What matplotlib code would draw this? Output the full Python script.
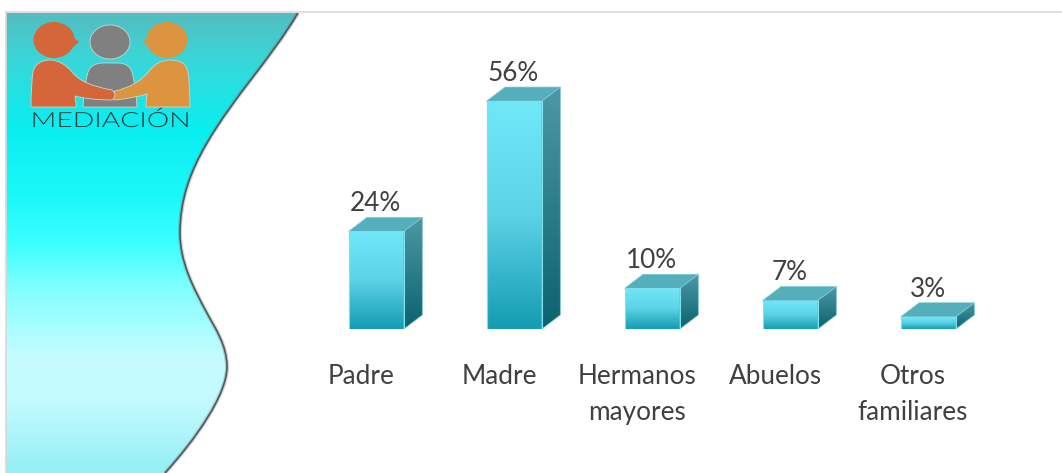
#!/usr/bin/env python3
# -*- coding: utf-8 -*-
import numpy as np
import matplotlib
matplotlib.use("Agg")
import matplotlib.pyplot as plt
import matplotlib.patheffects as pe
from matplotlib.colors import LinearSegmentedColormap
from matplotlib.patches import Ellipse, PathPatch, Polygon
from matplotlib.path import Path
from matplotlib.transforms import Affine2D

plt.rcParams['font.family'] = ['Lato', 'DejaVu Sans']

categories = ['Padre', 'Madre', 'Hermanos\nmayores', 'Abuelos', 'Otros\nfamiliares']
values = [24, 56, 10, 7, 3]
value_labels = ['24%', '56%', '10%', '7%', '3%']

W, H = 1062, 473
TEXT = '#404040'


class StretchX(pe.AbstractPathEffect):
    """Widen text around a centre x (display pixels), the logo lettering is very wide"""
    def __init__(self, cx, factor):
        super().__init__()
        self.cx = cx
        self.factor = factor

    def draw_path(self, renderer, gc, tpath, affine, rgbFace=None):
        stretch = Affine2D().translate(-self.cx, 0).scale(self.factor, 1).translate(self.cx, 0)
        renderer.draw_path(gc, tpath, affine + stretch, rgbFace)


def smooth_shape(start, curves):
    # closed shape from quadratic segments: (control, end) pairs
    verts, codes = [start], [Path.MOVETO]
    for ctrl, end in curves:
        verts += [ctrl, end]
        codes += [Path.CURVE3, Path.CURVE3]
    verts.append(start)
    codes.append(Path.CLOSEPOLY)
    return Path(verts, codes)


fig = plt.figure(figsize=(W / 100, H / 100), dpi=100)

# background panel, in pixel coordinates
bg = fig.add_axes([0, 0, 1, 1])
bg.set_xlim(0, W)
bg.set_ylim(H, 0)
bg.axis('off')

panel_cmap = LinearSegmentedColormap.from_list('panel', [
    (0.00, '#55bcc0'), (0.10, '#3ad6d8'), (0.25, '#0aeef0'), (0.40, '#1cf8fa'),
    (0.50, '#3cffff'), (0.60, '#80ffff'), (0.75, '#c6fcff'), (0.85, '#c2fafd'),
    (1.00, '#94eff4')])
edge_verts = [(298, 13),
              (270, 60), (235, 95), (207, 143),
              (190, 172), (180, 200), (180, 233),
              (180, 262), (193, 287), (207, 313),
              (215, 328), (227, 345), (227, 367),
              (227, 395), (195, 440), (165, 473)]
edge_codes = [Path.MOVETO] + [Path.CURVE4] * 15
panel_path = Path(edge_verts + [(6, 473), (6, 13), (298, 13)],
                  edge_codes + [Path.LINETO, Path.LINETO, Path.CLOSEPOLY])
grad = np.linspace(0, 1, 256).reshape(-1, 1)
im = bg.imshow(grad, cmap=panel_cmap, extent=(6, 300, 473, 13), aspect='auto', zorder=1)
im.set_clip_path(PathPatch(panel_path, transform=bg.transData))
bg.set_xlim(0, W)
bg.set_ylim(H, 0)

# soft shadow on the curved edge
edge_path = Path(edge_verts, edge_codes)
bg.add_patch(PathPatch(edge_path, fc='none', ec='#707070', lw=3.0, alpha=0.3, zorder=2))
bg.add_patch(PathPatch(edge_path, fc='none', ec='#4a5a5a', lw=1.2, zorder=2))

# frame lines
bg.plot([6, W], [12.5, 12.5], color='#d9d9d9', lw=1.2, zorder=3)
bg.plot([6, 6], [12.5, H], color='#d9d9d9', lw=1.2, zorder=3)

# logo
RED, GREY, ORANGE = '#d4663a', '#808080', '#dc9440'
halo = dict(ec='#c8d8d0', lw=0.6, zorder=5)
bg.add_patch(PathPatch(smooth_shape((83, 107), [
    ((84, 88), (87, 76)), ((89, 63), (103, 63)), ((110, 63), (118, 63)),
    ((131, 63), (133, 76)), ((136, 90), (137, 107))]), fc=GREY, **halo))
bg.add_patch(Ellipse((110, 42), 40, 34, fc=GREY, **halo))

bg.add_patch(Ellipse((54, 40), 41, 36, fc=RED, ec='none', zorder=5))
bg.add_patch(Polygon([(71, 35), (79, 42), (71, 49)], closed=True, fc=RED, zorder=5))
bg.add_patch(Ellipse((167, 40), 41, 36, fc=ORANGE, ec='none', zorder=5))
bg.add_patch(Polygon([(151, 35), (143, 42), (151, 49)], closed=True, fc=ORANGE, zorder=5))

bg.add_patch(PathPatch(smooth_shape((190, 107), [
    ((190, 85), (188, 72)), ((186, 60), (170, 60)), ((158, 60), (150, 70)),
    ((138, 86), (115, 91)), ((110, 96), (115, 100)), ((135, 98), (147, 94)),
    ((146, 100), (146, 107))]), fc=ORANGE, **halo))
bg.add_patch(PathPatch(smooth_shape((31, 107), [
    ((31, 85), (33, 72)), ((36, 60), (50, 60)), ((62, 60), (72, 72)),
    ((82, 85), (112, 90)), ((118, 95), (112, 100)), ((90, 100), (75, 96)),
    ((76, 100), (76, 107))]), fc=RED, **halo))
bg.text(110.5, 127, 'MEDIACIÓN', fontsize=15, color='#2f3a3c', ha='center', va='baseline',
        fontweight=300, zorder=6, path_effects=[StretchX(110.5, 1.36)])

# chart axes: baseline at y=329px, 4.07px per percent, 138px per category
ax = fig.add_axes([307.2 / W, (H - 329) / H, 690 / W, 4.07 * 60 / H])
ax.patch.set_alpha(0)
for s in ax.spines.values():
    s.set_visible(False)

x = np.arange(len(values))
bar_w = 0.4
depth_x = 0.134
depth_y = 3.45

front_cmap = LinearSegmentedColormap.from_list('front', ['#70e8fa', '#5cd2e6', '#149cb2'])
side_cmap = LinearSegmentedColormap.from_list('side', ['#4d98a6', '#0b626e'])

bars = ax.bar(x, values, width=bar_w, color='none', edgecolor='#7fdfec', linewidth=0.8, zorder=4)
for xi, v, bar in zip(x, values, bars):
    l, r = xi - bar_w / 2, xi + bar_w / 2
    ax.imshow(grad, cmap=front_cmap, extent=(l, r, 0, v), aspect='auto', zorder=3)

    side = Polygon([(r, 0), (r + depth_x, depth_y), (r + depth_x, v + depth_y), (r, v)],
                   closed=True, fc='none', ec='#70c0cc', lw=0.5, zorder=3)
    ax.add_patch(side)
    side_im = ax.imshow(grad, cmap=side_cmap, extent=(r, r + depth_x, 0, v + depth_y),
                        aspect='auto', zorder=2)
    side_im.set_clip_path(side)

    ax.add_patch(Polygon([(l, v), (l + depth_x, v + depth_y), (r + depth_x, v + depth_y), (r, v)],
                         closed=True, fc='#55aebb', ec='#80ccd6', lw=0.5, zorder=3))
    ax.annotate(value_labels[xi], (xi, v), xytext=(-0.5, 11), textcoords='offset points',
                ha='center', va='bottom', fontsize=18.8, color=TEXT)

ax.set_xlim(-0.5, 4.5)
ax.set_ylim(0, 60)
ax.set_yticks([])
ax.set_xticks(x - 0.11)
ax.set_xticklabels(categories, fontsize=18.8, color=TEXT, linespacing=1.55)
ax.tick_params(axis='x', length=0, pad=25)

fig.savefig('out.png', dpi=100)
